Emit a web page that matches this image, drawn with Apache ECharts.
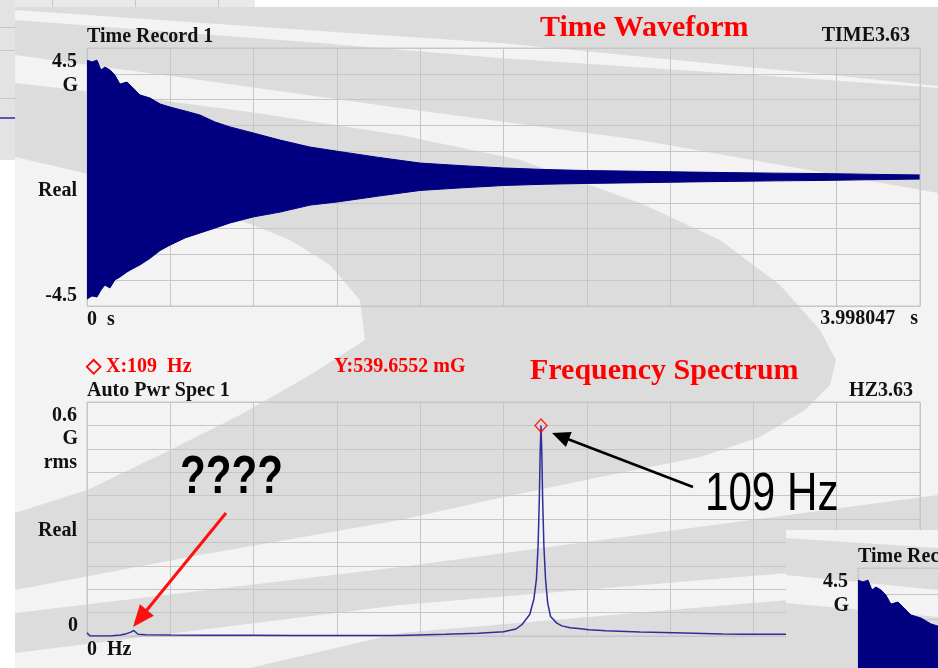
<!DOCTYPE html>
<html><head><meta charset="utf-8">
<script src="https://cdn.jsdelivr.net/npm/echarts@6/dist/echarts.min.js"></script>
<style>html,body{margin:0;padding:0;background:#fff;}#c{width:938px;height:668px;}</style>
</head><body><div id="c"></div>
<script>
// ---------- data ----------
const waveTimeS = [0,0.024,0.048,0.067,0.086,0.11,0.134,0.158,0.192,0.221,0.254,0.303,0.351,0.399,0.471,0.543,0.615,0.687,0.797,0.927,1.071,1.2,1.4,1.6,1.8,2.0,2.2,2.4,2.66,2.9,3.09,3.3,3.57,3.8,3.998];
const waveUpperG = [4.53,4.46,4.53,4.15,4.26,4.15,3.95,3.60,3.68,3.45,3.18,3.06,2.83,2.71,2.56,2.40,2.13,1.94,1.71,1.43,1.16,1.00,0.76,0.54,0.44,0.35,0.29,0.25,0.22,0.19,0.17,0.15,0.13,0.10,0.08];
const waveLowerG = [-4.73,-4.61,-4.65,-4.38,-4.19,-4.30,-3.99,-3.88,-3.68,-3.55,-3.41,-3.15,-2.85,-2.64,-2.36,-2.17,-1.98,-1.78,-1.55,-1.36,-1.09,-0.97,-0.74,-0.52,-0.42,-0.33,-0.28,-0.25,-0.22,-0.19,-0.17,-0.15,-0.13,-0.10,-0.08];

const specFreqHz = [0,0.75,3,5.5,8,9.5,10.5,11.25,12.25,14,20,30,40,50,60,75,86,94,100,103,104.5,106.3,107.3,107.9,108.3,108.6,108.8,109,109.2,109.4,109.7,110.1,110.6,111.3,112.8,114,116,118,120.5,124.6,132.8,141,152.6,157.5,168,180,200];
const specAmpGrms = [0.0085,0,0,0,0.0026,0.006,0.010,0.014,0.0045,0.003,0.0026,0.0022,0.002,0.0015,0.0012,0.0013,0.0044,0.007,0.011,0.018,0.030,0.055,0.095,0.145,0.23,0.35,0.47,0.5397,0.47,0.35,0.23,0.145,0.085,0.05,0.033,0.026,0.021,0.019,0.016,0.0135,0.0103,0.0085,0.005,0.0044,0.0044,0.004,0.004];

const peakFreqHz = 109;
const peakAmpGrms = 0.5396552;

// tick / axis label texts
const waveYLabels = ["4.5", "G", "Real", "-4.5"];
const waveXLabels = ["0  s", "3.998047   s"];
const specYLabels = ["0.6", "G", "rms", "Real", "0"];
const specXLabels = ["0  Hz"];

// ---------- styling ----------
const NAVY = '#000080';
const SPEC = '#2e2e99';
const GRIDC = '#c6c6c6';
const LIGHT = '#f3f3f3';
const DARK = '#dcdcdc';
const SERIF = '"Liberation Serif", "Times New Roman", serif';

function txt(s, x, y, align, size, color, z) {
  return {type:'text', x:x, y:y, z:z||100, silent:true,
    style:{text:s, x:0, y:0, fill:color||'#111', font:'bold '+(size||20)+'px '+SERIF,
      textAlign:align||'left', textVerticalAlign:'middle', verticalAlign:'middle'}};
}
function bigTxt(s, x, y, weight) {
  return {type:'text', x:x, y:y, z:100, scaleX:0.78, scaleY:1, silent:true,
    style:{text:s, x:0, y:0, fill:'#000', font:(weight||'normal')+' 54px "Liberation Sans", Arial, sans-serif',
      textAlign:'left', textVerticalAlign:'middle', verticalAlign:'middle'}};
}
function arrow(tail, tip, color, w, hl, hw) {
  const dx = tip[0]-tail[0], dy = tip[1]-tail[1];
  const L = Math.sqrt(dx*dx+dy*dy), ux = dx/L, uy = dy/L;
  const bx = tip[0]-ux*hl, by = tip[1]-uy*hl, nx = -uy, ny = ux;
  return [
    {type:'line', z:100, silent:true, shape:{x1:tail[0], y1:tail[1], x2:bx+ux*2, y2:by+uy*2}, style:{stroke:color, lineWidth:w}},
    {type:'polygon', z:100, silent:true, shape:{points:[tip,[bx+nx*hw, by+ny*hw],[bx-nx*hw, by-ny*hw]]}, style:{fill:color}}
  ];
}
function poly(pts, fill, z) {
  return {type:'polygon', z:(z===undefined?-20:z), silent:true, shape:{points:pts}, style:{fill:fill}};
}
function rect(x,y,w,h,fill,z){
  return {type:'rect', z:(z===undefined?-30:z), silent:true, shape:{x:x,y:y,width:w,height:h}, style:{fill:fill}};
}
function hline(x1,x2,y,c,w,z){
  return {type:'line', z:(z===undefined?-10:z), silent:true, shape:{x1:x1,y1:y,x2:x2,y2:y}, style:{stroke:c,lineWidth:w||1}};
}
function vline(x,y1,y2,c,w,z){
  return {type:'line', z:(z===undefined?-10:z), silent:true, shape:{x1:x,y1:y1,x2:x,y2:y2}, style:{stroke:c,lineWidth:w||1}};
}

const graphics = [];
// previous-slide fragment, top-left
graphics.push(rect(0,0,255,8,'#e9e9e9',-40));
graphics.push(rect(0,0,15,160,'#e3e3e3',-40));
[52,135,218].forEach(x=>graphics.push(vline(x+0.5,0,8,GRIDC,1,-35)));
[27,50,98].forEach(y=>graphics.push(hline(0,15,y+0.5,GRIDC,1,-35)));
graphics.push(hline(0,15,118,SPEC,1.5,-35));

// main slide background with swirl
graphics.push(rect(15,7,923,661,LIGHT,-30));
graphics.push(poly([[15,7],[938,7],[938,86],[800,72],[500,43],[320,31],[15,10]],DARK));
graphics.push(poly([[15,20],[320,43],[500,58],[800,78],[938,88],[938,193],[640,140],[400,108],[200,80],[15,55]],DARK));
graphics.push(poly([[15,83],[120,95],[250,112],[400,135],[520,160],[640,203],[720,240],[780,285],[820,330],[836,360],[830,385],[805,410],[760,437],[700,457],[600,477],[490,500],[400,520],[200,555],[15,590],
  [15,513],[87,490],[160,455],[240,415],[310,375],[365,340],[360,300],[330,265],[290,240],[253,225],[200,208],[140,190],[80,172],[15,157]],DARK));
graphics.push(poly([[15,613],[400,567],[788,515],[938,495],[938,555],[788,573],[400,605],[15,653]],DARK));
graphics.push(poly([[250,668],[400,633],[788,600],[938,585],[938,668]],DARK));

// next-slide fragment, bottom-right (drawn above the main chart)
graphics.push(rect(786,530,152,138,DARK,50));
graphics.push(poly([[786,530],[938,530],[938,548],[786,538]],LIGHT,51));
graphics.push(poly([[786,575],[938,590],[938,617],[786,603]],LIGHT,51));
graphics.push(txt("Time Record 1", 858, 557, 'left', 20, '#111', 110));
graphics.push(txt(waveYLabels[0], 848, 582, 'right', 20, '#111', 110));
graphics.push(txt(waveYLabels[1], 849, 606, 'right', 20, '#111', 110));

// texts of the main slide
graphics.push(txt("Time Record 1", 87, 37, 'left'));
graphics.push(txt("Time Waveform", 540, 28, 'left', 30, '#ff0000'));
graphics.push(txt("TIME3.63", 910, 36, 'right'));
graphics.push(txt(waveYLabels[0], 77, 62, 'right'));
graphics.push(txt(waveYLabels[1], 78, 86, 'right'));
graphics.push(txt(waveYLabels[2], 77, 191, 'right'));
graphics.push(txt(waveYLabels[3], 77, 296, 'right'));
graphics.push(txt(waveXLabels[0], 87, 320, 'left'));
graphics.push(txt(waveXLabels[1], 918, 319, 'right'));

graphics.push(txt("\u25C7 X:109  Hz", 86, 367, 'left', 20, '#ff0000'));
graphics.push(txt("Y:539.6552 mG", 334, 367, 'left', 20, '#ff0000'));
graphics.push(txt("Frequency Spectrum", 530, 371, 'left', 30, '#ff0000'));
graphics.push(txt("Auto Pwr Spec 1", 87, 391, 'left'));
graphics.push(txt("HZ3.63", 913, 391, 'right'));
graphics.push(txt(specYLabels[0], 77, 416, 'right'));
graphics.push(txt(specYLabels[1], 78, 439, 'right'));
graphics.push(txt(specYLabels[2], 77, 463, 'right'));
graphics.push(txt(specYLabels[3], 77, 531, 'right'));
graphics.push(txt(specYLabels[4], 78, 626, 'right'));
graphics.push(txt(specXLabels[0], 87, 650, 'left'));

graphics.push(bigTxt("????", 180, 478, 'bold'));
graphics.push(bigTxt("109 Hz", 705, 495, 'normal'));
arrow([693,487],[552,433],'#000',2.5,18,8).forEach(g=>graphics.push(g));
arrow([226,513],[133,627],'#ff1010',3,22,9).forEach(g=>graphics.push(g));

const axisHidden = {axisLine:{show:false}, axisTick:{show:false}, axisLabel:{show:false},
  splitLine:{show:true, lineStyle:{color:GRIDC, width:1}}};
function ax(extra){ return Object.assign({type:'value'}, JSON.parse(JSON.stringify(axisHidden)), extra); }
const gridBase = {show:true, borderColor:GRIDC, borderWidth:1, backgroundColor:'transparent', containLabel:false, outerBoundsMode:'none'};

const upperData = waveTimeS.map((t,i)=>[t, waveUpperG[i]]);
const lowerData = waveTimeS.map((t,i)=>[t, waveLowerG[i]]);
const specData = specFreqHz.map((f,i)=>[f, specAmpGrms[i]]);

function waveSeries(data, xi, yi, z){
  return {type:'line', xAxisIndex:xi, yAxisIndex:yi, data:data, symbol:'none', z:z,
    lineStyle:{color:NAVY, width:1}, areaStyle:{color:NAVY, opacity:1, origin:'auto'}, silent:true};
}

const option = {
  animation:false,
  backgroundColor:'#ffffff',
  grid:[
    Object.assign({left:87, top:48, width:833, height:258}, gridBase),
    Object.assign({left:87, top:402, width:833, height:234}, gridBase),
    Object.assign({left:858, top:568, width:833, height:258, z:60}, gridBase)
  ],
  xAxis:[
    ax({gridIndex:0, min:0, max:4, interval:0.4}),
    ax({gridIndex:1, min:0, max:200, interval:20}),
    ax({gridIndex:2, min:0, max:4, interval:0.4, z:60})
  ],
  yAxis:[
    ax({gridIndex:0, min:-5, max:5, interval:1}),
    ax({gridIndex:1, min:0, max:0.6, interval:0.06}),
    ax({gridIndex:2, min:-5, max:5, interval:1, z:60})
  ],
  graphic:{elements:graphics},
  series:[
    waveSeries(upperData,0,0,2),
    waveSeries(lowerData,0,0,2),
    {type:'line', xAxisIndex:1, yAxisIndex:1, data:specData, symbol:'none', z:3,
      lineStyle:{color:SPEC, width:1.5}, silent:true},
    {type:'scatter', xAxisIndex:1, yAxisIndex:1, data:[[peakFreqHz, peakAmpGrms]], symbol:'diamond', symbolSize:[12,13], z:4,
      itemStyle:{color:'rgba(0,0,0,0)', borderColor:'#ff0000', borderWidth:1.5}, silent:true},
    waveSeries(upperData,2,2,70),
    waveSeries(lowerData,2,2,70)
  ]
};
const chart = echarts.init(document.getElementById('c'), null, {renderer:'canvas'});
chart.setOption(option);
</script></body></html>
